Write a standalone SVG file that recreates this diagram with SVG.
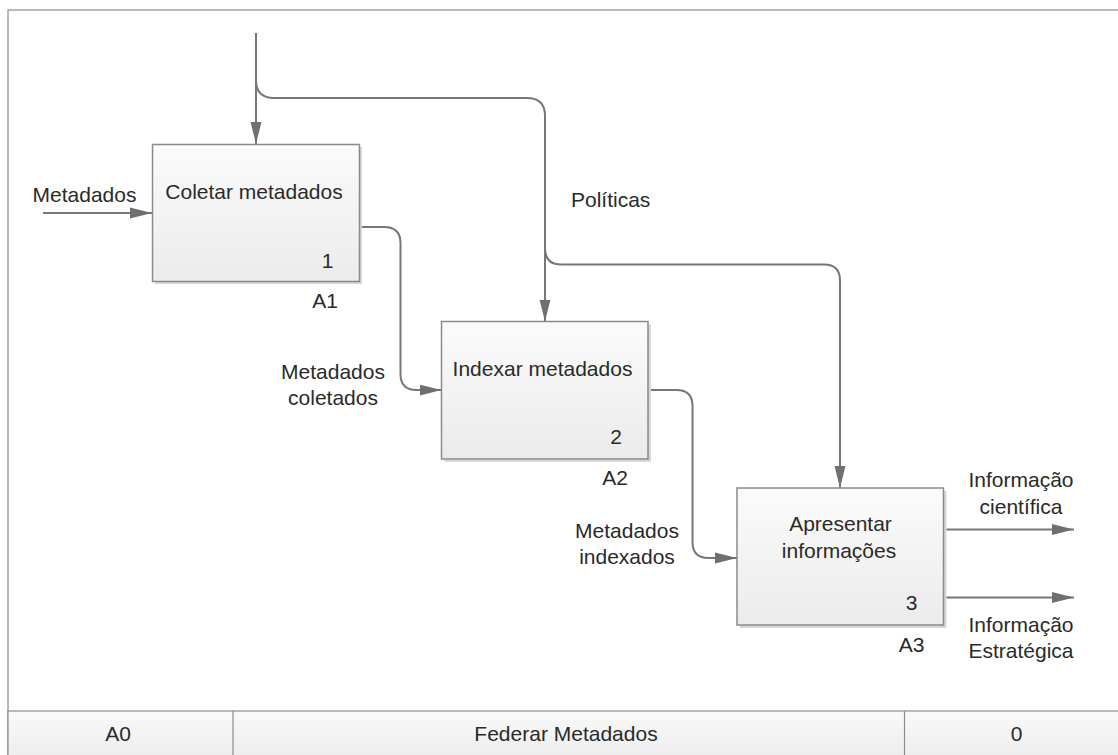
<svg xmlns="http://www.w3.org/2000/svg" width="1118" height="755" viewBox="0 0 1118 755">
<defs>
  <linearGradient id="boxFill" x1="0" y1="0" x2="0" y2="1">
    <stop offset="0" stop-color="#fbfbfb"/>
    <stop offset="1" stop-color="#ebebeb"/>
  </linearGradient>
  <linearGradient id="footFill" x1="0" y1="0" x2="0" y2="1">
    <stop offset="0" stop-color="#f9f9f9"/>
    <stop offset="1" stop-color="#ececec"/>
  </linearGradient>
  <marker id="arrow" markerWidth="22" markerHeight="12" refX="22" refY="6" orient="auto" markerUnits="userSpaceOnUse">
    <path d="M0,0.5 L22,6 L0,11.5 Z" fill="#6f6f6f"/>
  </marker>
</defs>
<style>
  text { font-family: "Liberation Sans", Arial, sans-serif; font-size: 21px; fill: #2a2a2a; }
  .c { text-anchor: middle; }
  .box { fill: url(#boxFill); stroke: #8a8a8a; stroke-width: 1.5; }
  .shadow { fill: #d8d8d8; }
  .conn path { fill: none; stroke: #777777; stroke-width: 2; }
  .arr { marker-end: url(#arrow); }
  .frame { fill: #ffffff; stroke: #8c8c8c; stroke-width: 1.2; }
  .foot { fill: url(#footFill); stroke: #8c8c8c; stroke-width: 1.2; }
</style>

<rect class="frame" x="8" y="10" width="1116" height="750"/>

<g id="footer">
  <rect class="foot" x="8" y="711" width="1116" height="50"/>
  <line x1="233" y1="711" x2="233" y2="755" stroke="#8c8c8c" stroke-width="1.2"/>
  <line x1="904.5" y1="711" x2="904.5" y2="755" stroke="#8c8c8c" stroke-width="1.2"/>
  <text class="c" x="118" y="741">A0</text>
  <text class="c" x="566" y="741">Federar Metadados</text>
  <text class="c" x="1016.5" y="741">0</text>
</g>

<g id="connectors" class="conn">
  <path class="arr" d="M256,33 V144"/>
  <path class="arr" d="M256,80 Q256,98 274,98 H527 Q545,98 545,116 V321.5"/>
  <path class="arr" d="M545,248 Q545,264.5 561,264.5 H824 Q840,264.5 840,280.5 V488"/>
  <path class="arr" d="M43,213 H152"/>
  <path class="arr" d="M359,227 H384 Q400.5,227 400.5,243 V374 Q400.5,390 416.5,390 H441.5"/>
  <path class="arr" d="M648,390 H676.5 Q692.5,390 692.5,406 V542 Q692.5,558 708.5,558 H737"/>
  <path class="arr" d="M944,529.5 H1074"/>
  <path class="arr" d="M944,597.5 H1074"/>
</g>

<g id="labels">
  <text class="c" x="84.5" y="201.5">Metadados</text>
  <text x="571" y="207">Políticas</text>
  <text class="c" x="333" y="379">Metadados</text>
  <text class="c" x="333" y="405">coletados</text>
  <text class="c" x="627" y="537.5">Metadados</text>
  <text class="c" x="627" y="564">indexados</text>
  <text class="c" x="1021" y="486.5">Informação</text>
  <text class="c" x="1021" y="514">científica</text>
  <text class="c" x="1021" y="631.5">Informação</text>
  <text class="c" x="1021" y="658">Estratégica</text>
</g>

<g id="node-A1">
  <rect class="shadow" x="155" y="147" width="207" height="137"/>
  <rect class="box" x="152.5" y="144.5" width="207" height="137"/>
  <text class="c" x="254" y="199">Coletar metadados</text>
  <text class="c" x="327.5" y="267.5">1</text>
  <text class="c" x="325" y="308">A1</text>
</g>

<g id="node-A2">
  <rect class="shadow" x="444.5" y="324.5" width="206.5" height="137.5"/>
  <rect class="box" x="441.5" y="321.5" width="206.5" height="137.5"/>
  <text class="c" x="542.5" y="376">Indexar metadados</text>
  <text class="c" x="616" y="444">2</text>
  <text class="c" x="615" y="485">A2</text>
</g>

<g id="node-A3">
  <rect class="shadow" x="740" y="491" width="206.5" height="137"/>
  <rect class="box" x="737" y="488" width="206.5" height="137"/>
  <text class="c" x="840.5" y="531">Apresentar</text>
  <text class="c" x="839" y="557.5">informações</text>
  <text class="c" x="911.5" y="610">3</text>
  <text class="c" x="911.5" y="651.5">A3</text>
</g>
</svg>
